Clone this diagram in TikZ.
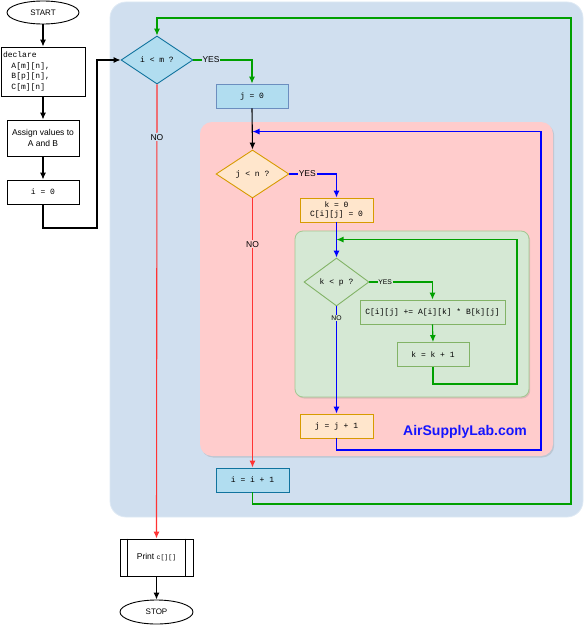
\documentclass[tikz,border=0pt]{standalone}
\usepackage{fontspec}
\setmainfont{Liberation Sans}
\setmonofont{Liberation Mono}
\usepackage{xcolor}
\definecolor{OuterBlue}{RGB}{208,223,239}
\definecolor{LoopPink}{RGB}{255,204,204}
\definecolor{LoopGreen}{RGB}{213,232,212}
\definecolor{GreenEdge}{RGB}{130,179,102}
\definecolor{BoxBlue}{RGB}{177,221,240}
\definecolor{BoxBlueEdge}{RGB}{16,115,158}
\definecolor{PaleBlueEdge}{RGB}{108,142,191}
\definecolor{BoxOrange}{RGB}{255,230,204}
\definecolor{OrangeEdge}{RGB}{215,155,0}
\definecolor{LineGreen}{RGB}{0,160,0}
\definecolor{LineBlue}{RGB}{0,0,255}
\definecolor{LineRed}{RGB}{255,51,51}
\definecolor{SiteBlue}{RGB}{20,20,255}
\usepackage{tikz}
\usetikzlibrary{arrows.meta, calc, shadows, shapes.geometric}
\providecommand{\codefont}{\fontsize{8}{10.6}\selectfont\ttfamily}
\providecommand{\labelfont}{\fontsize{8.5}{10.5}\selectfont}

\tikzset{
	box/.style={rectangle, draw, line width=0.9pt, inner sep=1pt, font=\codefont},
	cond/.style={diamond, draw, line width=0.9pt, inner sep=0pt, font=\codefont},
	term/.style={ellipse, draw, line width=0.9pt, inner sep=0pt, font=\fontsize{8}{10}\selectfont},
	flow/.style={line width=1.1pt, -{Latex[length=7pt, width=6pt]}},
	tag/.style={inner sep=0.8pt, font=\fontsize{8.5}{10}\selectfont},
	smalltag/.style={inner sep=0.5pt, font=\fontsize{6.8}{8}\selectfont},
	loopbox/.style={draw=none, drop shadow={shadow xshift=1.2pt, shadow yshift=-1.5pt, opacity=0.25}}
}

\begin{document}
\begin{tikzpicture}[x=1pt, y=-1pt]

	\useasboundingbox (0,0) rectangle (585,626);

	% loop containers
	\filldraw[fill=OuterBlue, draw=OuterBlue!70!white, line width=0.8pt, rounded corners=16pt] (110,2) rectangle (583,517);
	\filldraw[fill=LoopPink, loopbox, rounded corners=12pt] (200,122) rectangle (553,456);
	\filldraw[fill=LoopGreen, loopbox, draw=GreenEdge!60!LoopGreen, line width=0.8pt, rounded corners=8pt] (295,231) rectangle (529,397);

	% left column
	\node[term, minimum width=72pt, minimum height=23pt] (start) at (43,12.5) {START};
	\node[box, minimum width=84pt, minimum height=49pt, text width=80pt, align=left] (decl) at (43,71.5)
		{declare\\\hspace*{2ex}A[m][n],\\\hspace*{2ex}B[p][n],\\\hspace*{2ex}C[m][n]};
	\node[box, minimum width=72pt, minimum height=36pt, align=center, font=\labelfont] (assign) at (43,138) {Assign values to\\A and B};
	\node[box, minimum width=72pt, minimum height=24pt] (izero) at (43,192) {i = 0};

	% outer loop
	\node[cond, fill=BoxBlue, draw=BoxBlueEdge, minimum width=72pt, minimum height=48pt] (im) at (157,60) {i < m ?};
	\node[box, fill=BoxBlue, draw=PaleBlueEdge, minimum width=72pt, minimum height=24pt] (jzero) at (252,96) {j = 0};
	\node[box, fill=BoxBlue, draw=BoxBlueEdge, minimum width=73pt, minimum height=24pt] (iinc) at (252.5,480) {i = i + 1};

	% middle loop
	\node[cond, fill=BoxOrange, draw=OrangeEdge, minimum width=73pt, minimum height=48pt] (jn) at (252.5,174) {j < n ?};
	\node[box, fill=BoxOrange, draw=OrangeEdge, minimum width=73pt, minimum height=24pt, align=center, font=\fontsize{8}{9.5}\selectfont\ttfamily] (kzero) at (336.5,210) {k = 0\\C[i][j] = 0};
	\node[box, fill=BoxOrange, draw=OrangeEdge, minimum width=73pt, minimum height=24pt] (jinc) at (336.5,426) {j = j + 1};

	% inner loop
	\node[cond, fill=LoopGreen, draw=GreenEdge, minimum width=65pt, minimum height=48pt] (kp) at (336.5,282) {k < p ?};
	\node[box, fill=LoopGreen, draw=GreenEdge, minimum width=145pt, minimum height=24pt] (cij) at (432.5,312) {C[i][j] += A[i][k] * B[k][j]};
	\node[box, fill=LoopGreen, draw=GreenEdge, minimum width=72pt, minimum height=24pt] (kinc) at (433,354.5) {k = k + 1};

	\node[font=\fontsize{14}{16}\selectfont\bfseries, text=SiteBlue, inner sep=0pt] (site) at (465,432) {AirSupplyLab.com};

	% output
	\node[box, minimum width=73pt, minimum height=37pt, font=\labelfont] (print) at (156.5,557.5) {Print {\fontsize{6.5}{8}\selectfont\ttfamily c[][]}};
	\draw[line width=0.9pt] ($ (print.north west)+(8,0) $) -- ($ (print.south west)+(8,0) $);
	\draw[line width=0.9pt] ($ (print.north east)+(-8,0) $) -- ($ (print.south east)+(-8,0) $);
	\node[term, minimum width=73pt, minimum height=24pt] (stop) at (156.5,612) {STOP};

	\coordinate (c1) at (97,228);
	\coordinate (c2) at (571,504);
	\coordinate (c3) at (157,18);
	\coordinate (c4) at (541,450);
	\coordinate (c5) at ($ (jn.north)+(0,-18) $);
	\coordinate (c6) at (517,384);
	\coordinate (c7) at ($ (kp.north)+(0,-18) $);

	% connectors
	\draw[flow] (start) -- (decl);
	\draw[flow] (decl) -- (assign);
	\draw[flow] (assign) -- (izero);
	\draw[flow] (izero.south) |- (c1) |- (im.west);

	\draw[flow, LineGreen] (im.east) -| node[tag, pos=0.15, fill=OuterBlue, text=black]{YES} (jzero.north);
	\draw[flow, LineRed] (im.south) -- node[tag, pos=0.116, fill=OuterBlue, text=black]{NO} (print.north);
	\draw[flow] (jzero.south) -- (jn.north);
	\draw[flow, LineGreen] (iinc.south) |- (c2) |- (c3) -- (im.north);

	\draw[flow, LineBlue] (jn.east) -| node[tag, pos=0.19, fill=LoopPink, text=black]{YES} (kzero.north);
	\draw[flow, LineRed] (jn.south) -- node[tag, pos=0.17, fill=LoopPink, text=black]{NO} (iinc.north);
	\draw[flow, LineBlue] (kzero.south) -- (kp.north);
	\draw[flow, LineBlue] (jinc.south) |- (c4) |- (c5);

	\draw[flow, LineGreen] (kp.east) -| node[smalltag, pos=0.125, fill=LoopGreen, text=black]{YES} (cij.north);
	\draw[flow, LineBlue] (kp.south) -- node[smalltag, pos=0.11, fill=LoopGreen, text=black]{NO} (jinc.north);
	\draw[flow, LineGreen] (cij.south) -- (kinc.north);
	\draw[flow, LineGreen] (kinc.south) |- (c6) |- (c7);

	\draw[flow] (print) -- (stop);

\end{tikzpicture}
\end{document}
